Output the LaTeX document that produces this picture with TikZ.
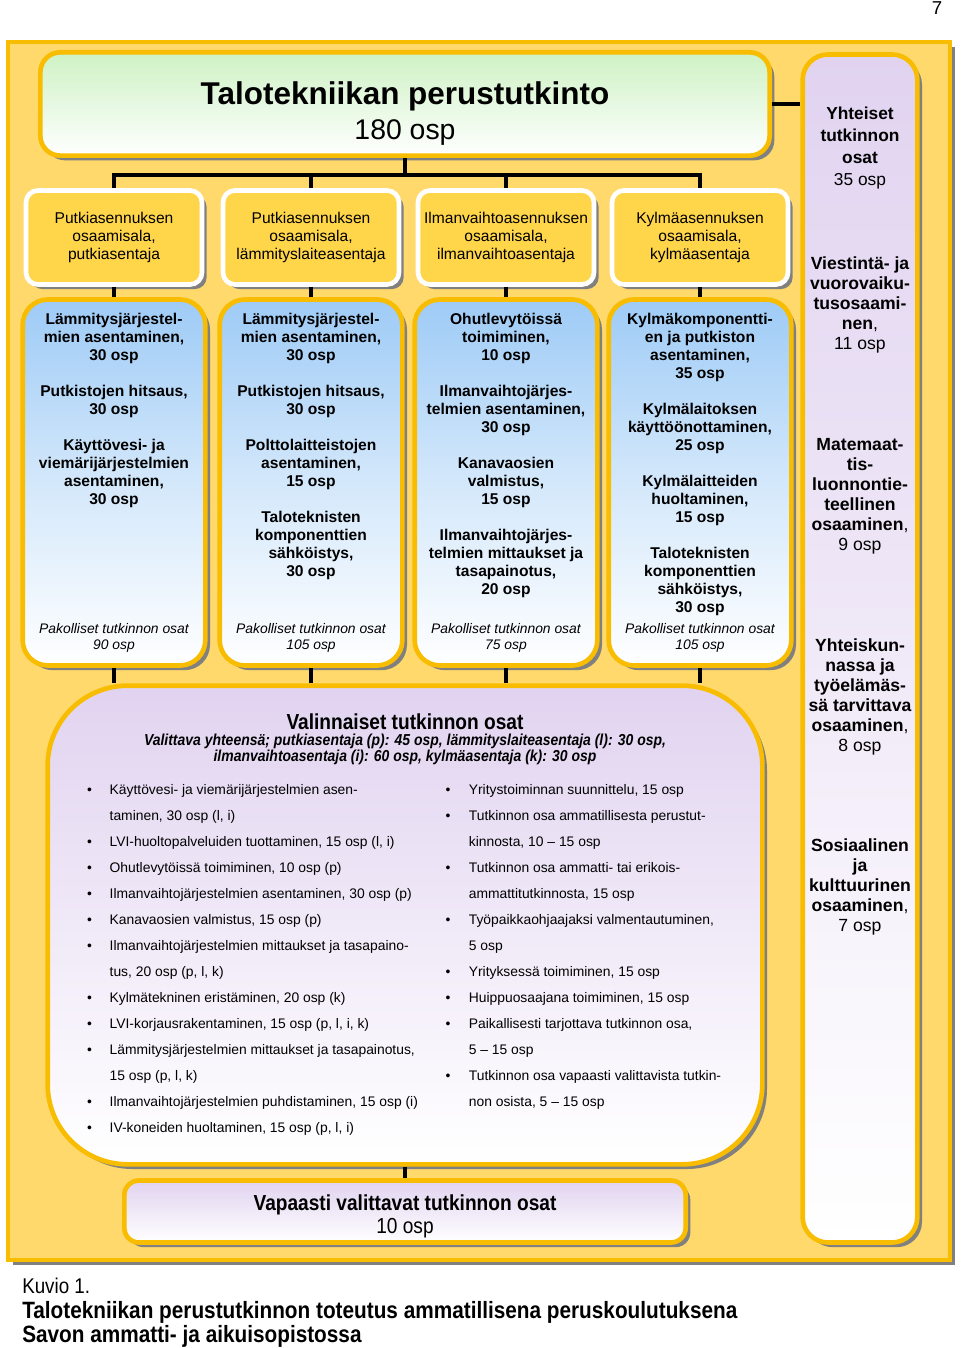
\documentclass[tikz,border=0pt]{standalone}
\usepackage{fontspec}
\setmainfont{Liberation Sans}
\newfontfamily\narrowsf[FakeStretch=0.88]{Liberation Sans}
\usepackage{tikz}
\usetikzlibrary{positioning,shadows}
\definecolor{frameyel}{RGB}{255,217,108}
\definecolor{goldline}{RGB}{248,188,0}
\definecolor{hdryel}{RGB}{255,214,74}
\definecolor{ttlgreen}{RGB}{206,242,196}
\definecolor{bodyblue}{RGB}{158,203,246}
\definecolor{optlilac}{RGB}{225,211,240}

\begin{document}
\begin{tikzpicture}[x=0.75pt,y=-0.75pt,
  shadowed/.style={drop shadow={shadow xshift=3.5pt,shadow yshift=-3.5pt,
                   fill=black!50,opacity=1}},
  bgframe/.style={draw=goldline,line width=3pt,fill=frameyel,shadowed},
  titlebox/.style={draw=goldline,line width=3.5pt,rounded corners=15pt,
                   top color=ttlgreen,bottom color=white,shadowed,
                   minimum width=547pt,minimum height=77.5pt},
  hdr/.style={draw=white,line width=3.5pt,rounded corners=9pt,fill=hdryel,
              shadowed,minimum width=132pt,minimum height=70.5pt,align=center,
              font=\fontsize{11.7}{13.5}\selectfont},
  bodybox/.style={draw=goldline,line width=3.5pt,rounded corners=19pt,
                  top color=bodyblue,bottom color=white,
                  middle color=bodyblue!45!white,shadowed,
                  minimum width=137pt,minimum height=274.5pt},
  bodytxt/.style={inner sep=0pt,outer sep=0pt,align=center,
                  font=\fontsize{11.7}{13.5}\selectfont\bfseries},
  foot/.style={inner sep=0pt,outer sep=0pt,align=center,
               font=\fontsize{10.4}{12}\selectfont\itshape},
  optbox/.style={draw=goldline,line width=3.5pt,rounded corners=60pt,
                 top color=optlilac,bottom color=white,shadowed,
                 minimum width=536pt,minimum height=359pt},
  freebox/.style={draw=goldline,line width=3.5pt,rounded corners=11pt,
                  top color=optlilac,bottom color=white,shadowed,
                  minimum width=421pt,minimum height=46.5pt,align=center,
                  font=\narrowsf\fontsize{16.3}{17.25}\selectfont},
  commonbox/.style={draw=goldline,line width=3.5pt,rounded corners=19pt,
                    top color=optlilac,bottom color=white,shadowed,
                    minimum width=86pt,minimum height=891pt},
  comhead/.style={inner sep=0pt,outer sep=0pt,align=center,anchor=north,
                  font=\fontsize{13}{16.5}\selectfont\bfseries},
  comtxt/.style={inner sep=0pt,outer sep=0pt,align=center,anchor=north,
                 font=\fontsize{13.2}{15}\selectfont\bfseries},
  listtxt/.style={inner sep=0pt,outer sep=0pt,anchor=base west,
                  font=\fontsize{10.4}{19.5}\selectfont},
  conn/.style={line width=3pt,black}]
\useasboundingbox (0,0) rectangle (960,1348);
\node[font=\fontsize{14}{16}\selectfont] (pnum) at (937,8) {7};
\draw[bgframe] (8,42) rectangle (950,1260);

% main title and the common parts
\node[titlebox] (main) at (405,104) {};
\node[inner sep=0pt,anchor=north,align=center,
      font=\fontsize{23.6}{26.25}\selectfont] (maintxt) at (405,81)
  {\textbf{Talotekniikan perustutkinto}\\{\fontsize{21.3}{26.25}\selectfont 180 osp}};
\node[commonbox] (yht) at (860,648.5) {};
\node[comhead] (y0) at (860,106.5) {Yhteiset\\tutkinnon\\osat\\{\mdseries 35 osp}};
\node[comtxt] (y1) at (860,257) {Viestintä- ja\\vuorovaiku-\\tusosaami-\\nen{\mdseries ,}\\{\mdseries 11 osp}};
\node[comtxt] (y2) at (860,438) {Matemaat-\\tis-\\luonnontie-\\teellinen\\osaaminen{\mdseries ,}\\{\mdseries 9 osp}};
\node[comtxt] (y3) at (860,639) {Yhteiskun-\\nassa ja\\työelämäs-\\sä tarvittava\\osaaminen{\mdseries ,}\\{\mdseries 8 osp}};
\node[comtxt] (y4) at (860,839) {Sosiaalinen\\ja\\kulttuurinen\\osaaminen{\mdseries ,}\\{\mdseries 7 osp}};

% osaamisalat
\node[hdr] (h1) at (114,237.5) {Putkiasennuksen\\osaamisala,\\putkiasentaja};
\node[hdr] (h2) at (311,237.5) {Putkiasennuksen\\osaamisala,\\lämmityslaiteasentaja};
\node[hdr] (h3) at (506,237.5) {Ilmanvaihtoasennuksen\\osaamisala,\\ilmanvaihtoasentaja};
\node[hdr] (h4) at (700,237.5) {Kylmäasennuksen\\osaamisala,\\kylmäasentaja};

\node[bodybox] (b1) at (114,482.5) {};
\node[bodybox] (b2) at (311,482.5) {};
\node[bodybox] (b3) at (506,482.5) {};
\node[bodybox] (b4) at (700,482.5) {};

\node[bodytxt,below=12pt of b1.north] (t1) {Lämmitysjärjestel-\\mien asentaminen,\\30 osp\\[13.5pt]
  Putkistojen hitsaus,\\30 osp\\[13.5pt]Käyttövesi- ja\\viemärijärjestelmien\\asentaminen,\\30 osp};
\node[bodytxt,below=12pt of b2.north] (t2) {Lämmitysjärjestel-\\mien asentaminen,\\30 osp\\[13.5pt]
  Putkistojen hitsaus,\\30 osp\\[13.5pt]Polttolaitteistojen\\asentaminen,\\15 osp\\[13.5pt]
  Taloteknisten\\komponenttien\\sähköistys,\\30 osp};
\node[bodytxt,below=12pt of b3.north] (t3) {Ohutlevytöissä\\toimiminen,\\10 osp\\[13.5pt]
  Ilmanvaihtojärjes-\\telmien asentaminen,\\30 osp\\[13.5pt]Kanavaosien\\valmistus,\\15 osp\\[13.5pt]
  Ilmanvaihtojärjes-\\telmien mittaukset ja\\tasapainotus,\\20 osp};
\node[bodytxt,below=12pt of b4.north] (t4) {Kylmäkomponentti-\\en ja putkiston\\asentaminen,\\35 osp\\[13.5pt]
  Kylmälaitoksen\\käyttöönottaminen,\\25 osp\\[13.5pt]Kylmälaitteiden\\huoltaminen,\\15 osp\\[13.5pt]
  Taloteknisten\\komponenttien\\sähköistys,\\30 osp};

\node[foot,above=11.25pt of b1.south] (f1) {Pakolliset tutkinnon osat\\90 osp};
\node[foot,above=11.25pt of b2.south] (f2) {Pakolliset tutkinnon osat\\105 osp};
\node[foot,above=11.25pt of b3.south] (f3) {Pakolliset tutkinnon osat\\75 osp};
\node[foot,above=11.25pt of b4.south] (f4) {Pakolliset tutkinnon osat\\105 osp};

% valinnaiset
\node[optbox] (val) at (405,925) {};
\node[inner sep=0pt,anchor=base,font=\narrowsf\fontsize{16.3}{18}\selectfont\bfseries]
  (valttl) at (405,729) {Valinnaiset tutkinnon osat};
\node[inner sep=0pt,anchor=north,align=center,
      font=\narrowsf\fontsize{11.9}{12}\selectfont\bfseries\itshape] (valsub) at (405,734)
  {Valittava yhteensä; putkiasentaja (p): 45 osp, lämmityslaiteasentaja (l): 30 osp,\\
   ilmanvaihtoasentaja (i): 60 osp, kylmäasentaja (k): 30 osp};
\node[listtxt] (lstL) at (87,794) {\begin{tabular}[t]{@{}p{17pt}@{}l@{}}
  \textbullet & Käyttövesi- ja viemärijärjestelmien asen-\\
              & taminen, 30 osp (l, i)\\
  \textbullet & LVI-huoltopalveluiden tuottaminen, 15 osp (l, i)\\
  \textbullet & Ohutlevytöissä toimiminen, 10 osp (p)\\
  \textbullet & Ilmanvaihtojärjestelmien asentaminen, 30 osp (p)\\
  \textbullet & Kanavaosien valmistus, 15 osp (p)\\
  \textbullet & Ilmanvaihtojärjestelmien mittaukset ja tasapaino-\\
              & tus, 20 osp (p, l, k)\\
  \textbullet & Kylmätekninen eristäminen, 20 osp (k)\\
  \textbullet & LVI-korjausrakentaminen, 15 osp (p, l, i, k)\\
  \textbullet & Lämmitysjärjestelmien mittaukset ja tasapainotus,\\
              & 15 osp (p, l, k)\\
  \textbullet & Ilmanvaihtojärjestelmien puhdistaminen, 15 osp (i)\\
  \textbullet & IV-koneiden huoltaminen, 15 osp (p, l, i)
\end{tabular}};
\node[listtxt] (lstR) at (445.5,794) {\begin{tabular}[t]{@{}p{17.5pt}@{}l@{}}
  \textbullet & Yritystoiminnan suunnittelu, 15 osp\\
  \textbullet & Tutkinnon osa ammatillisesta perustut-\\
              & kinnosta, 10 – 15 osp\\
  \textbullet & Tutkinnon osa ammatti- tai erikois-\\
              & ammattitutkinnosta, 15 osp\\
  \textbullet & Työpaikkaohjaajaksi valmentautuminen,\\
              & 5 osp\\
  \textbullet & Yrityksessä toimiminen, 15 osp\\
  \textbullet & Huippuosaajana toimiminen, 15 osp\\
  \textbullet & Paikallisesti tarjottava tutkinnon osa,\\
              & 5 – 15 osp\\
  \textbullet & Tutkinnon osa vapaasti valittavista tutkin-\\
              & non osista, 5 – 15 osp
\end{tabular}};

\node[freebox] (vap) at (405,1211.5)
  {\rule{0pt}{19pt}\textbf{Vapaasti valittavat tutkinnon osat}\\10 osp};

% connectors
\coordinate (split) at (405,175);
\draw[conn] (main.south) -- (split);
\draw[conn] (h1.north) -- (h1.north |- split) -- (h4.north |- split) -- (h4.north);
\draw[conn] (h2.north) -- (h2.north |- split);
\draw[conn] (h3.north) -- (h3.north |- split);
\foreach \i in {1,...,4} {
  \draw[conn] (h\i.south) -- (b\i.north);
  \draw[conn] (b\i.south) -- (b\i.south |- val.north);
}
\draw[conn] (val.south) -- (vap.north);
\draw[conn] (main.east) -- (main.east -| yht.west);

% caption
\node[inner sep=0pt,anchor=base west,font=\narrowsf\fontsize{16}{18}\selectfont]
  (kuvio) at (22,1293.5) {Kuvio 1.};
\node[inner sep=0pt,anchor=north west,align=left,
      font=\narrowsf\fontsize{17.7}{18}\selectfont\bfseries] (capt) at (22,1301)
  {Talotekniikan perustutkinnon toteutus ammatillisena peruskoulutuksena\\
   Savon ammatti- ja aikuisopistossa};
\end{tikzpicture}
\end{document}
